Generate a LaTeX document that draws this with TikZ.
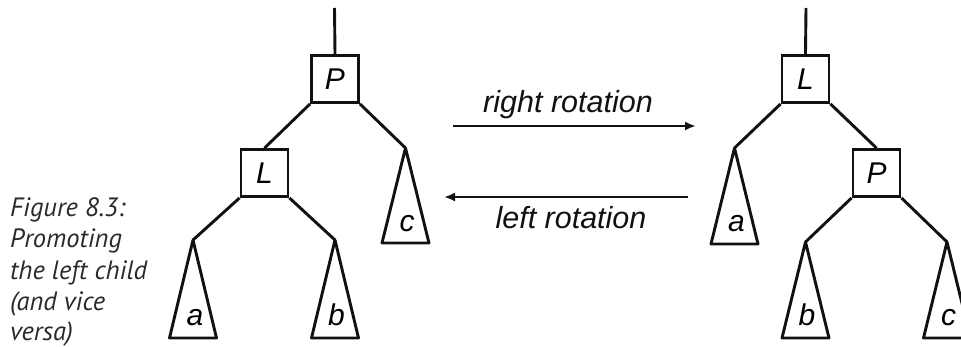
\documentclass[tikz,border=0pt]{standalone}
\usepackage{fontspec}
\setmainfont{Liberation Sans}
\newfontfamily\capfont{PT Sans}
\usetikzlibrary{arrows.meta}
\definecolor{ink}{HTML}{111111}
\definecolor{capink}{HTML}{2A2A2A}
\begin{document}
\begin{tikzpicture}[x=1pt,y=-1pt,
  ln/.style={draw=ink, line width=2.9pt},
  box/.style={draw=ink, line width=2.9pt, minimum width=47pt, minimum height=47pt,
    inner sep=0pt, font=\fontsize{30}{30}\selectfont\itshape},
  tri/.style={draw=ink, line width=2.9pt, line join=round},
  sub/.style={inner sep=0pt, anchor=base, font=\fontsize{30}{30}\selectfont\itshape},
  arr/.style={draw=ink, line width=2.4pt, -{Latex[length=11pt,width=9pt]}},
  lab/.style={inner sep=0pt, anchor=base, font=\fontsize{30.5}{30}\selectfont\itshape, text=ink}]
\useasboundingbox (0,0) rectangle (961,347);
\clip (0,0) rectangle (961,347);

% caption (base anchor of a multi-line node = baseline of its last line)
\node[anchor=base west, inner sep=0pt, align=left, text=capink,
  font=\capfont\fontsize{26.5}{31}\selectfont\itshape] (cap) at (10,341)
  {Figure 8.3:\\Promoting\\the left child\\(and vice\\versa)};

% left tree
\coordinate (t1) at (334.5,8);
\node[box] (P1) at (335,79) {P};
\node[box] (L1) at (264.5,173) {L};
\coordinate (a1) at (193,240);
\coordinate (b1) at (335,240);
\coordinate (c1) at (405.5,148);
\draw[ln] (t1) -- (P1.north);
\draw[ln] (P1.south west) -- (L1.north);
\draw[ln] (P1.south east) -- (c1);
\draw[ln] (L1.south west) -- (a1);
\draw[ln] (L1.south east) -- (b1);
\draw[tri] (a1) -- ++(-23.5,98) -- ++(47,0) -- cycle;
\draw[tri] (b1) -- ++(-23.5,98) -- ++(47,0) -- cycle;
\draw[tri] (c1) -- ++(-23.5,95) -- ++(47,0) -- cycle;
\node[sub] (na1) at (195,325) {a};
\node[sub] (nb1) at (336.5,325) {b};
\node[sub] (nc1) at (407,232) {c};

% arrows
\coordinate (r0) at (453,126);
\coordinate (r1) at (696,126);
\coordinate (l0) at (688,197);
\coordinate (l1) at (444,197);
\draw[arr] (r0) -- (r1);
\draw[arr] (l0) -- (l1);
\node[lab] (rl) at (568,113) {right rotation};
\node[lab] (ll) at (571,229) {left rotation};

% right tree
\coordinate (t2) at (806,8);
\node[box] (L2) at (805.5,79) {L};
\node[box] (P2) at (876.5,173) {P};
\coordinate (a2) at (734.5,148);
\coordinate (b2) at (805.5,242);
\coordinate (c2) at (947,242);
\draw[ln] (t2) -- (L2.north);
\draw[ln] (L2.south west) -- (a2);
\draw[ln] (L2.south east) -- (P2.north);
\draw[ln] (P2.south west) -- (b2);
\draw[ln] (P2.south east) -- (c2);
\draw[tri] (a2) -- ++(-23.5,96) -- ++(47,0) -- cycle;
\draw[tri] (b2) -- ++(-23.5,96) -- ++(47,0) -- cycle;
\draw[tri] (c2) -- ++(-23.5,96) -- ++(47,0) -- cycle;
\node[sub] (na2) at (736.5,232) {a};
\node[sub] (nb2) at (807,325) {b};
\node[sub] (nc2) at (948.5,325) {c};
\end{tikzpicture}
\end{document}
